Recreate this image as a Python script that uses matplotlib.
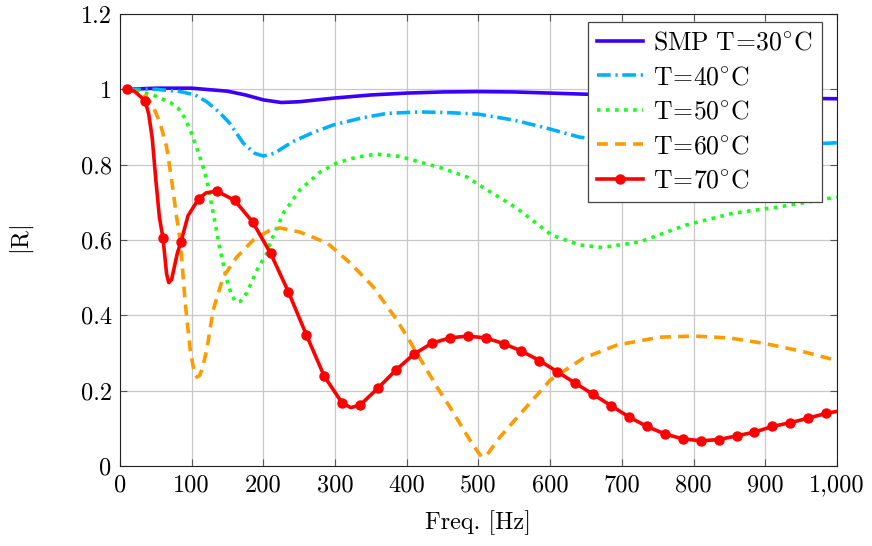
import numpy as np
from matplotlib import pyplot as plt

# ---------- Data
f30 = [10, 50, 100, 150, 175, 200, 225, 250, 300, 350, 400, 450, 500, 550, 600, 650, 700, 800, 900, 1000]
r30 = [1.0, 1.003, 1.003, 0.995, 0.985, 0.972, 0.965, 0.967, 0.977, 0.985, 0.99, 0.993, 0.994, 0.993, 0.99, 0.987, 0.984, 0.98, 0.977, 0.975]

f40 = [10, 50, 84, 105, 121, 138, 153, 172, 188, 200, 215, 241, 270, 297, 335, 372, 418, 460, 500, 550, 595, 641, 700, 800, 900, 1000]
r40 = [1.0, 1.0, 0.994, 0.985, 0.967, 0.94, 0.91, 0.857, 0.83, 0.823, 0.83, 0.861, 0.886, 0.905, 0.923, 0.936, 0.94, 0.938, 0.934, 0.918, 0.897, 0.873, 0.86, 0.852, 0.85, 0.858]

f50 = [10, 46, 70, 81, 90, 98, 107, 116, 121, 130, 139, 149, 156, 162, 168, 177, 191, 205, 209, 228, 251, 279, 302, 330, 358, 390, 418, 450, 484, 506,
       553, 602, 641, 673, 725, 790, 855, 920, 1000]
r50 = [1.0, 0.985, 0.965, 0.95, 0.925, 0.892, 0.845, 0.794, 0.76, 0.672, 0.58, 0.494, 0.452, 0.435, 0.437, 0.46, 0.52, 0.565, 0.59, 0.672, 0.733, 0.78, 0.804, 0.82, 0.828, 0.822, 0.807, 0.79, 0.767, 0.74,
       0.685, 0.613, 0.587, 0.58, 0.595, 0.64, 0.671, 0.688, 0.714]

f60 = [10, 32, 45, 56, 65, 72, 79, 84, 91, 98, 103, 107, 111, 115, 121, 130, 144, 163, 186, 209, 223, 251, 289, 321, 353, 386, 409, 442, 460, 488, 500, 505, 512, 530,
       567, 600, 646, 693, 753, 800, 850, 900, 950, 1000]
r60 = [1.0, 0.99, 0.96, 0.91, 0.847, 0.76, 0.66, 0.6, 0.432, 0.308, 0.255, 0.236, 0.24, 0.26, 0.308, 0.414, 0.502, 0.555, 0.6, 0.626, 0.632, 0.621, 0.592, 0.539, 0.476, 0.388, 0.316, 0.21, 0.157, 0.069, 0.035, 0.024, 0.03, 0.077,
       0.157, 0.228, 0.286, 0.321, 0.342, 0.345, 0.34, 0.325, 0.305, 0.28]

f70 = [10, 20, 35, 40, 45, 50, 55, 60, 65, 68, 72, 76, 80, 85, 95, 110, 120, 135, 160, 185, 210, 235, 260, 285, 310, 322, 335, 360, 385, 410,
       435, 460, 485, 510, 535, 560, 585, 610, 635, 660, 685, 710, 735, 760, 785, 810, 835, 860, 885, 910, 935, 960, 985, 1000]
r70 = [1.0, 0.995, 0.97, 0.935, 0.87, 0.76, 0.66, 0.605, 0.51, 0.487, 0.495, 0.53, 0.565, 0.595, 0.665, 0.71, 0.725, 0.73, 0.705, 0.648, 0.565, 0.462, 0.348, 0.238, 0.167, 0.155, 0.162, 0.207, 0.255, 0.297,
       0.326, 0.34, 0.345, 0.34, 0.325, 0.305, 0.28, 0.25, 0.22, 0.19, 0.16, 0.13, 0.105, 0.085, 0.072, 0.067, 0.07, 0.08, 0.09, 0.105, 0.115, 0.127, 0.14, 0.145]
f70_marks = [10 + 25 * i for i in range(40)]

labels = [r'$\mathrm{SMP\ T\!=\!30^{\circ}C}$', r'$\mathrm{T\!=\!40^{\circ}C}$', r'$\mathrm{T\!=\!50^{\circ}C}$',
	  r'$\mathrm{T\!=\!60^{\circ}C}$', r'$\mathrm{T\!=\!70^{\circ}C}$']

xticks = [0, 100, 200, 300, 400, 500, 600, 700, 800, 900, 1000]
xlabels = ['0', '100', '200', '300', '400', '500', '600', '700', '800', '900', '1,000']
yticks = [0, 0.2, 0.4, 0.6, 0.8, 1.0, 1.2]
ylabels = ['0', '0.2', '0.4', '0.6', '0.8', '1', '1.2']

# ---------- Style
plt.rcParams['font.family'] = 'serif'
plt.rcParams['font.serif'] = ['cmr10', 'DejaVu Serif']
plt.rcParams['mathtext.fontset'] = 'cm'
plt.rcParams['axes.formatter.use_mathtext'] = True

fig = plt.figure(figsize=(8.72, 5.46), dpi=100)
ax = fig.add_axes([0.1376, 0.1465, 0.8222, 0.8279])

lw = 2.6
ax.plot(f30, r30, color='#3a00ff', lw=lw, label=labels[0])
ax.plot(f40, r40, color='#00b0ff', lw=lw, dashes=(3.8, 1.3, 0.6, 1.3), label=labels[1])
ax.plot(f50, r50, color='#19ff19', lw=lw, dashes=(1, 1.5), label=labels[2])
ax.plot(f60, r60, color='#ff9a00', lw=lw, dashes=(3, 2), label=labels[3])
mark = [f in f70_marks for f in f70]
ax.plot(f70, r70, color='#ff0000', lw=lw, marker='o', ms=6.5, markevery=mark, label=labels[4])

ax.set_xlim(0, 1000)
ax.set_ylim(0, 1.2)
ax.set_xticks(xticks)
ax.set_xticklabels(xlabels)
ax.set_yticks(yticks)
ax.set_yticklabels(ylabels)
ax.tick_params(direction='in', top=True, right=True, labelsize=17.5, length=5, color='#555555', pad=6)
ax.grid(True, color='#c8c8c8', lw=0.9)
for s in ax.spines.values():
	s.set_color('#222222')

ax.set_xlabel('Freq. [Hz]', fontsize=17.5, labelpad=10)
ax.set_ylabel(r'$|\mathrm{R}|$', fontsize=17.5, labelpad=32)

leg = ax.legend(loc='upper right', bbox_to_anchor=(0.979, 0.982), borderaxespad=0, fontsize=18.5, fancybox=False, framealpha=1,
		edgecolor='#444444', handlelength=1.8, labelspacing=0.42, borderpad=0.35, handletextpad=0.4)
leg.get_frame().set_linewidth(0.9)

plt.savefig('out.png', dpi=100)
